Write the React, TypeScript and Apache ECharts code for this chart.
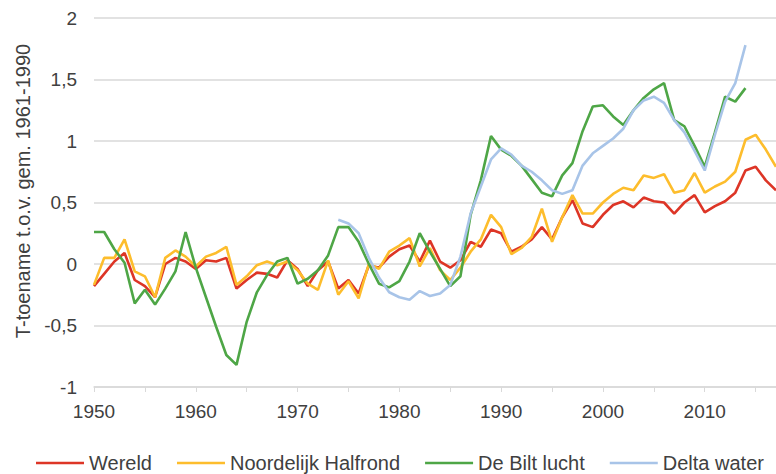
import React, { useEffect, useRef } from "react";
import * as echarts from "echarts";

const wereldStart = 1950;
const wereld = [
  -0.18, -0.08, 0.02, 0.09, -0.13, -0.18, -0.27, 0.0, 0.05, 0.02,
  -0.04, 0.03, 0.02, 0.05, -0.2, -0.13, -0.07, -0.08, -0.11, 0.03,
  -0.04, -0.18, -0.05, 0.02, -0.2, -0.13, -0.24, -0.01, -0.03, 0.06,
  0.12, 0.15, 0.02, 0.19, 0.02, -0.03, 0.03, 0.18, 0.14, 0.28,
  0.25, 0.1, 0.14, 0.2, 0.3, 0.2, 0.38, 0.52, 0.33, 0.3,
  0.4, 0.48, 0.51, 0.46, 0.54, 0.51, 0.5, 0.41, 0.5, 0.56,
  0.42, 0.47, 0.51, 0.58, 0.76, 0.79, 0.68, 0.6,
];

const noordStart = 1950;
const noordelijk = [
  -0.17, 0.05, 0.05, 0.2, -0.06, -0.1, -0.27, 0.05, 0.11, 0.06,
  -0.02, 0.06, 0.09, 0.14, -0.17, -0.1, -0.01, 0.02, -0.01, 0.02,
  -0.05, -0.16, -0.21, 0.03, -0.25, -0.14, -0.28, 0.0, -0.04, 0.1,
  0.15, 0.21, -0.02, 0.13, -0.05, -0.13, -0.03, 0.1, 0.2, 0.4,
  0.3, 0.08, 0.13, 0.22, 0.45, 0.18, 0.38, 0.56, 0.41, 0.41,
  0.5, 0.57, 0.62, 0.6, 0.72, 0.7, 0.73, 0.58, 0.6, 0.74,
  0.58, 0.63, 0.67, 0.75, 1.01, 1.05, 0.93, 0.79,
];

const deBiltStart = 1950;
const deBilt = [
  0.26, 0.26, 0.12, 0.01, -0.32, -0.21, -0.33, -0.2, -0.06, 0.26,
  -0.03, -0.27, -0.51, -0.74, -0.82, -0.47, -0.23, -0.09, 0.02, 0.05,
  -0.16, -0.12, -0.05, 0.07, 0.3, 0.3, 0.18, 0.0, -0.16, -0.19,
  -0.14, 0.02, 0.25, 0.1, -0.04, -0.18, -0.1, 0.4, 0.68, 1.04,
  0.93, 0.88, 0.8, 0.69, 0.58, 0.55, 0.72, 0.82, 1.08, 1.28,
  1.29, 1.2, 1.13, 1.25, 1.35, 1.42, 1.47, 1.17, 1.12, 0.96,
  0.79, 1.07, 1.36, 1.32, 1.43,
];

const deltaStart = 1974;
const delta = [
  0.36, 0.33, 0.25, 0.05, -0.11, -0.23, -0.27, -0.29, -0.22, -0.26,
  -0.24, -0.17, 0.06, 0.41, 0.63, 0.85, 0.94, 0.89, 0.8, 0.75,
  0.68, 0.6, 0.57, 0.6, 0.8, 0.9, 0.96, 1.02, 1.1, 1.25,
  1.33, 1.36, 1.31, 1.17, 1.07, 0.92, 0.76, 1.05, 1.32, 1.47,
  1.78,
];

const xLabels = [1950, 1960, 1970, 1980, 1990, 2000, 2010];
const yTicks = [-1, -0.5, 0, 0.5, 1, 1.5, 2];

const seriesNames = ["Wereld", "Noordelijk Halfrond", "De Bilt lucht", "Delta water"];
const seriesColors = ["#dd3526", "#fdbd2c", "#4ea646", "#a8c4e8"];

const toPairs = (start: number, vals: number[]) => vals.map((v, i) => [start + i, v]);

const FONT = "'Liberation Sans', Arial, sans-serif";
const TEXT = "#404040";

export default function App() {
  const ref = useRef<HTMLDivElement>(null);
  useEffect(() => {
    document.body.style.margin = "0";
    if (!ref.current) return;
    const chart = echarts.init(ref.current, undefined, { renderer: "svg" });
    const datasets = [
      toPairs(wereldStart, wereld),
      toPairs(noordStart, noordelijk),
      toPairs(deBiltStart, deBilt),
      toPairs(deltaStart, delta),
    ];
    chart.setOption({
      animation: false,
      textStyle: { fontFamily: FONT },
      grid: { left: 94, right: 0, top: 18, bottom: 87 },
      legend: {
        data: seriesNames,
        left: 31,
        top: 448,
        icon: "rect",
        itemWidth: 48,
        itemHeight: 2.5,
        itemGap: 25,
        textStyle: { fontSize: 20, color: TEXT, fontFamily: FONT },
      },
      xAxis: {
        type: "value",
        min: 1950,
        max: 2017,
        interval: 5,
        axisLine: { onZero: false, lineStyle: { color: "#d9d9d9", width: 1.5 } },
        axisTick: { show: true, length: 5, lineStyle: { color: "#d9d9d9" } },
        splitLine: { show: false },
        axisLabel: {
          fontSize: 19,
          color: TEXT,
          margin: 15,
          showMaxLabel: false,
          formatter: (v: number) => (xLabels.includes(v) ? String(v) : ""),
        },
      },
      yAxis: {
        type: "value",
        min: yTicks[0],
        max: yTicks[yTicks.length - 1],
        interval: 0.5,
        axisLine: { show: false },
        axisTick: { show: false },
        splitLine: { lineStyle: { color: "#d9d9d9", width: 1.5 } },
        axisLabel: {
          fontSize: 19,
          color: TEXT,
          margin: 17,
          formatter: (v: number) => String(v).replace(".", ","),
        },
      },
      graphic: [
        {
          type: "text",
          x: 23,
          y: 191,
          rotation: Math.PI / 2,
          style: {
            text: "T-toename t.o.v. gem. 1961-1990",
            fontSize: 20,
            fontFamily: FONT,
            fill: TEXT,
            align: "center",
            verticalAlign: "middle",
          },
        },
      ],
      series: seriesNames.map((name, i) => ({
        name,
        type: "line",
        data: datasets[i],
        symbol: "none",
        color: seriesColors[i],
        lineStyle: { width: 2.6, color: seriesColors[i] },
        clip: false,
      })),
    });
    return () => chart.dispose();
  }, []);
  return <div ref={ref} style={{ width: 776, height: 474 }} />;
}
